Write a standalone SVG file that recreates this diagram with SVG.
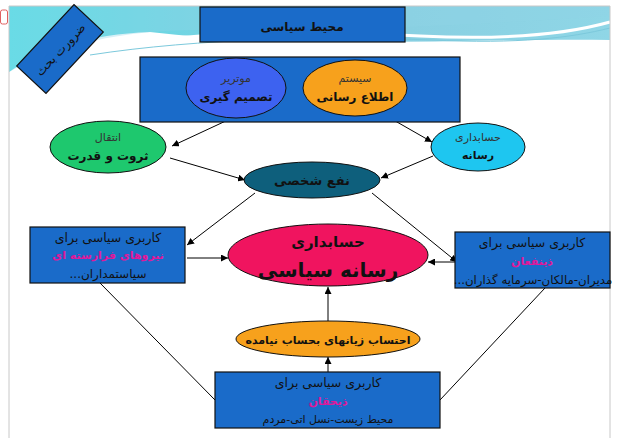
<svg xmlns="http://www.w3.org/2000/svg" width="617" height="438" viewBox="0 0 617 438">
<defs>
<linearGradient id="sw" x1="0" y1="0" x2="1" y2="0">
<stop offset="0" stop-color="#55dfe6"/>
<stop offset="0.5" stop-color="#86cde0"/>
<stop offset="1" stop-color="#8fd6e6"/>
</linearGradient>
<marker id="ah" viewBox="0 0 10 10" refX="10" refY="5" markerWidth="7" markerHeight="7" orient="auto" markerUnits="userSpaceOnUse">
<path d="M0,0 L10,5 L0,10 Z" fill="#000"/>
</marker>
<style>
.bx{fill:#1a6bc9;stroke:#111;stroke-width:1.2}
.el{stroke:#111;stroke-width:1}
.t{font-family:"DejaVu Sans",sans-serif;text-anchor:middle;direction:rtl;fill:#111}
.b{font-weight:bold}
.g{fill:#333}
.m{fill:#e0189a;font-weight:bold}
.c{stroke:#000;stroke-width:1;fill:none}
.ca{stroke:#000;stroke-width:1;fill:none;marker-end:url(#ah)}
</style>
</defs>
<rect x="0" y="0" width="617" height="438" fill="#fff"/>
<rect x="0.5" y="10" width="7" height="14" rx="2" fill="#fff" stroke="#e06060"/>
<g id="background">
<path d="M9,6 H610 V40 C470,38 300,50 150,32 C90,34 40,50 9,72 Z" fill="url(#sw)"/>
<path d="M9,72 C60,45 120,30 200,30 C300,32 420,28 610,16 V6 H9 Z" fill="#8ed3e4" opacity="0.35"/>
<path d="M90,52 C180,30 300,30 420,36 C500,40 560,36 610,22" fill="none" stroke="#fff" stroke-width="3"/>
<path d="M90,55 C200,38 330,36 430,40 C520,44 570,38 610,28" fill="none" stroke="#7cc9dc" stroke-width="1"/>
<path d="M9,6 V438 M9,6 H610 V438" fill="none" stroke="#c8c8c8" stroke-width="1"/>
</g>
<g id="connectors">
<line class="ca" x1="230" y1="119" x2="172" y2="146"/>
<line class="ca" x1="390" y1="118" x2="432" y2="142"/>
<line class="ca" x1="433" y1="156" x2="381" y2="178"/>
<line class="ca" x1="170" y1="158" x2="245" y2="180"/>
<line class="ca" x1="255" y1="193" x2="187" y2="245"/>
<line class="ca" x1="372" y1="193" x2="457" y2="262"/>
<line class="ca" x1="187" y1="258" x2="228" y2="258"/>
<line class="ca" x1="455" y1="262" x2="428" y2="262"/>
<line class="ca" x1="328" y1="321" x2="328" y2="287"/>
<line class="ca" x1="328" y1="372" x2="328" y2="357"/>
<line class="c" x1="100" y1="283" x2="215" y2="400"/>
<line class="c" x1="545" y1="288" x2="440" y2="400"/>
</g>
<g id="n_zarurat" transform="translate(60,49) rotate(-47)">
<rect class="bx" x="-42" y="-20" width="84" height="40"/>
<text class="t" x="0" y="5" font-size="12">ضرورت بحث</text>
</g>
<g id="n_mohit">
<rect class="bx" x="200" y="7" width="205" height="35"/>
<text class="t b" x="302" y="31" font-size="12">محیط سیاسی</text>
</g>
<g id="n_frame">
<rect class="bx" x="140" y="57" width="320" height="65"/>
</g>
<g id="n_tasmim">
<ellipse class="el" cx="236" cy="88" rx="50" ry="30" fill="#3d62f0"/>
<text class="t g" x="236" y="82" font-size="11">موتریر</text>
<text class="t b" x="236" y="101" font-size="12">تصمیم گیری</text>
</g>
<g id="n_etela">
<ellipse class="el" cx="355" cy="88" rx="52" ry="28" fill="#f7a11c"/>
<text class="t g" x="355" y="82" font-size="11">سیستم</text>
<text class="t b" x="355" y="101" font-size="12">اطلاع رسانی</text>
</g>
<g id="n_enteghal">
<ellipse class="el" cx="108" cy="147" rx="58" ry="26" fill="#1ec86e"/>
<text class="t g" x="108" y="141" font-size="11">انتقال</text>
<text class="t b" x="108" y="160" font-size="12">ثروت و قدرت</text>
</g>
<g id="n_resane">
<ellipse class="el" cx="478" cy="147" rx="47" ry="24" fill="#1ec6f0"/>
<text class="t g" x="478" y="141" font-size="11">حسابداری</text>
<text class="t b" x="478" y="159" font-size="11">رسانه</text>
</g>
<g id="n_nafa">
<ellipse class="el" cx="312" cy="180" rx="68" ry="18" fill="#0e5f7c"/>
<text class="t b" x="312" y="185" font-size="13">نفع شخصی</text>
</g>
<g id="n_left">
<rect class="bx" x="30" y="227" width="155" height="56"/>
<text class="t" x="108" y="242" font-size="12.5">کاربری سیاسی برای</text>
<text class="t m" x="108" y="259" font-size="11">نیروهای فرارسته ای</text>
<text class="t" x="108" y="278" font-size="12">سیاستمداران...</text>
</g>
<g id="n_right">
<rect class="bx" x="455" y="232" width="155" height="56"/>
<text class="t" x="532" y="247" font-size="12.5">کاربری سیاسی برای</text>
<text class="t m" x="532" y="265" font-size="11">ذینفعان</text>
<text class="t" x="533" y="284" font-size="11.8">مدیران-مالکان-سرمایه گذاران...</text>
</g>
<g id="n_center">
<ellipse class="el" cx="328" cy="255" rx="100" ry="31" fill="#f0145f"/>
<text class="t b" x="328" y="247" font-size="15">حسابداری</text>
<text class="t b" x="328" y="277" font-size="20">رسانه سیاسی</text>
</g>
<g id="n_ehtesab">
<ellipse class="el" cx="328" cy="339" rx="92" ry="18" fill="#f7a11c"/>
<text class="t b" x="328" y="344" font-size="11">احتساب زیانهای بحساب نیامده</text>
</g>
<g id="n_bottom">
<rect class="bx" x="215" y="372" width="225" height="56"/>
<text class="t" x="328" y="387" font-size="12.5">کاربری  سیاسی برای</text>
<text class="t m" x="328" y="405" font-size="11">ذیحقان</text>
<text class="t" x="328" y="423" font-size="11">محیط زیست-نسل اتی-مردم</text>
</g>
</svg>
